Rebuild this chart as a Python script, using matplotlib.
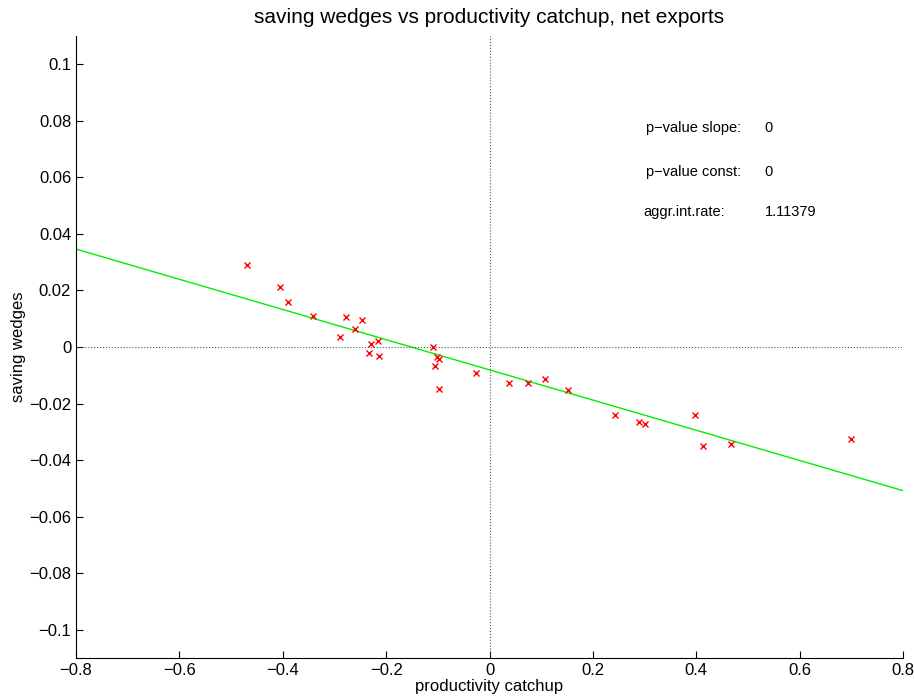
import numpy as np
import matplotlib
matplotlib.use('Agg')
import matplotlib.pyplot as plt

plt.rcParams['font.family'] = ['Liberation Sans', 'DejaVu Sans']

# productivity catchup vs saving wedges
catchup = [-0.470, -0.405, -0.389, -0.341, -0.277, -0.261, -0.246, -0.290,
           -0.230, -0.215, -0.234, -0.213, -0.110, -0.101, -0.097, -0.106,
           -0.097, -0.0265, 0.0374, 0.0749, 0.1065, 0.151, 0.2426, 0.289,
           0.3007, 0.397, 0.413, 0.467, 0.699]
wedges = [0.0290, 0.0212, 0.0159, 0.0110, 0.0106, 0.0064, 0.0095, 0.0035,
          0.0011, 0.0021, -0.0021, -0.0032, 0.0001, -0.0034, -0.0043, -0.0068,
          -0.0149, -0.0092, -0.0128, -0.0126, -0.0114, -0.0153, -0.0241, -0.0266,
          -0.0272, -0.0241, -0.0352, -0.0343, -0.0326]

slope = -0.0534
const = -0.0081
stat_names = ['p\u2212value slope:', 'p\u2212value const:', 'aggr.int.rate:']
stat_values = ['0', '0', '1.11379']

fig = plt.figure(figsize=(9.14, 6.99), dpi=100)
ax = fig.add_axes([0.0832, 0.0587, 0.9048, 0.8898])

xl = np.array([-0.8, 0.8])
ax.plot(xl, const + slope * xl, color='#00ee00', lw=1)
ax.plot(catchup, wedges, 'x', color='red', ms=4.5, mew=1)

ax.axhline(0, color='#555555', ls=':', lw=0.8)
ax.axvline(0, color='#555555', ls=':', lw=0.8)

ax.set_xlim(-0.8, 0.8)
ax.set_ylim(-0.11, 0.11)
ax.set_xticks(np.arange(-0.8, 0.81, 0.2))
ax.set_yticks(np.arange(-0.1, 0.101, 0.02))
ax.set_xticklabels(['\u22120.8', '\u22120.6', '\u22120.4', '\u22120.2', '0', '0.2', '0.4', '0.6', '0.8'])
ax.set_yticklabels(['\u22120.1', '\u22120.08', '\u22120.06', '\u22120.04', '\u22120.02', '0',
                    '0.02', '0.04', '0.06', '0.08', '0.1'])
ax.tick_params(direction='in', length=5, labelsize=12, colors='black')
ax.spines['top'].set_visible(False)
ax.spines['right'].set_visible(False)

ax.set_title('saving wedges vs productivity catchup, net exports', fontsize=15, pad=9)
ax.set_xlabel('productivity catchup', fontsize=12, labelpad=1)
ax.set_ylabel('saving wedges', fontsize=12, labelpad=2)

ys = [0.0774, 0.0618, 0.0477]
for name, val, y in zip(stat_names, stat_values, ys):
    ax.text(0.302 if name[0] == 'p' else 0.298, y, name, fontsize=10.5, va='center')
    ax.text(0.532, y, val, fontsize=10.5, va='center')

fig.savefig('out.png', dpi=100)
